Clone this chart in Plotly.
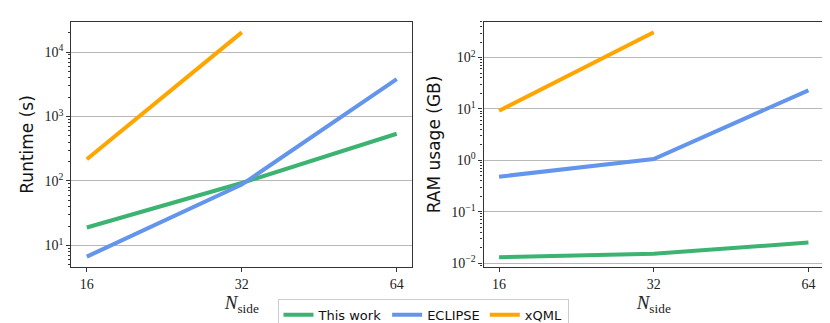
import plotly.graph_objects as go
import numpy as np

nside = [16, 32, 64]
nside_xqml = [16, 32]

runtime_this = [19, 93, 540]
runtime_eclipse = [6.7, 88, 3800]
runtime_xqml = [217, 20200]

ram_this = [0.013, 0.0152, 0.025]
ram_eclipse = [0.48, 1.06, 23]
ram_xqml = [9.2, 310]

x_ticks = [16, 32, 64]
x_ticktext = ["16", "32", "64"]

rt_ticks = [10, 100, 1000, 10000]
rt_ticktext = ["10<sup>1</sup>", "10<sup>2</sup>", "10<sup>3</sup>", "10<sup>4</sup>"]
ram_ticks = [0.01, 0.1, 1, 10, 100]
ram_ticktext = ["10<sup>−2</sup>", "10<sup>−1</sup>", "10<sup>0</sup>", "10<sup>1</sup>", "10<sup>2</sup>"]

GREEN = "#3cb371"
BLUE = "#6495ed"
ORANGE = "#ffa500"
SERIF = "Liberation Serif"
SANS = "DejaVu Sans"

def minor_vals(lo, hi):
    v = []
    for e in range(lo, hi):
        for m in range(2, 10):
            v.append(m * 10 ** e)
    return v

fig = go.Figure()
lw = 4
fig.add_trace(go.Scatter(x=nside, y=runtime_this, mode="lines", line=dict(color=GREEN, width=lw), name="This work", xaxis="x", yaxis="y"))
fig.add_trace(go.Scatter(x=nside, y=runtime_eclipse, mode="lines", line=dict(color=BLUE, width=lw), name="ECLIPSE", xaxis="x", yaxis="y"))
fig.add_trace(go.Scatter(x=nside_xqml, y=runtime_xqml, mode="lines", line=dict(color=ORANGE, width=lw), name="xQML", xaxis="x", yaxis="y"))
fig.add_trace(go.Scatter(x=nside, y=ram_this, mode="lines", line=dict(color=GREEN, width=lw), name="This work", showlegend=False, xaxis="x2", yaxis="y2"))
fig.add_trace(go.Scatter(x=nside, y=ram_eclipse, mode="lines", line=dict(color=BLUE, width=lw), name="ECLIPSE", showlegend=False, xaxis="x2", yaxis="y2"))
fig.add_trace(go.Scatter(x=nside_xqml, y=ram_xqml, mode="lines", line=dict(color=ORANGE, width=lw), name="xQML", showlegend=False, xaxis="x2", yaxis="y2"))

xr = [np.log10(16) - 0.0301, np.log10(64) + 0.0301]
common_x = dict(type="log", range=xr, tickmode="array", tickvals=x_ticks, ticktext=x_ticktext,
                showgrid=False, ticks="outside", ticklen=4, tickcolor="#333", showline=True, mirror=True,
                linecolor="#333", linewidth=1.3, tickfont=dict(family=SERIF, size=14, color="#222"),
                title=dict(text="<i>N</i><sub>side</sub>", font=dict(family=SERIF, size=19, color="#222"), standoff=2),
                zeroline=False)
common_y = dict(type="log", tickmode="array", showgrid=True, gridcolor="#b8b8b8", gridwidth=1,
                ticks="outside", ticklen=4, tickcolor="#333", showline=True, mirror=True,
                linecolor="#333", linewidth=1.3, tickfont=dict(family=SERIF, size=14, color="#222"),
                zeroline=False)

fig.update_layout(
    width=830, height=323,
    margin=dict(l=0, r=0, t=0, b=0),
    plot_bgcolor="white", paper_bgcolor="white",
    xaxis=dict(domain=[0.0763, 0.487], anchor="y", **common_x),
    xaxis2=dict(domain=[0.573, 0.983], anchor="y2", **common_x),
    yaxis=dict(domain=[0.1743, 0.9567], anchor="x", range=[0.662, 4.472], tickvals=rt_ticks, ticktext=rt_ticktext,
               minor=dict(tickmode="array", tickvals=minor_vals(0, 5), ticks="outside", ticklen=2, tickcolor="#333", showgrid=False),
               title=dict(text="Runtime (s)", font=dict(family=SANS, size=17, color="#111"), standoff=6),
               **common_y),
    yaxis2=dict(domain=[0.1743, 0.9567], anchor="x2", range=[-2.083, 2.70], tickvals=ram_ticks, ticktext=ram_ticktext,
                minor=dict(tickmode="array", tickvals=minor_vals(-3, 3), ticks="outside", ticklen=2, tickcolor="#333", showgrid=False),
                title=dict(text="RAM usage (GB)", font=dict(family=SANS, size=17, color="#111"), standoff=6),
                **common_y),
    legend=dict(orientation="h", x=0.5, xanchor="center", y=0.074, yanchor="top",
                bordercolor="#cccccc", borderwidth=1, bgcolor="white",
                font=dict(family=SANS, size=13, color="#111"), itemwidth=30, tracegroupgap=0),
    showlegend=True,
)

fig.write_html("out.html")
